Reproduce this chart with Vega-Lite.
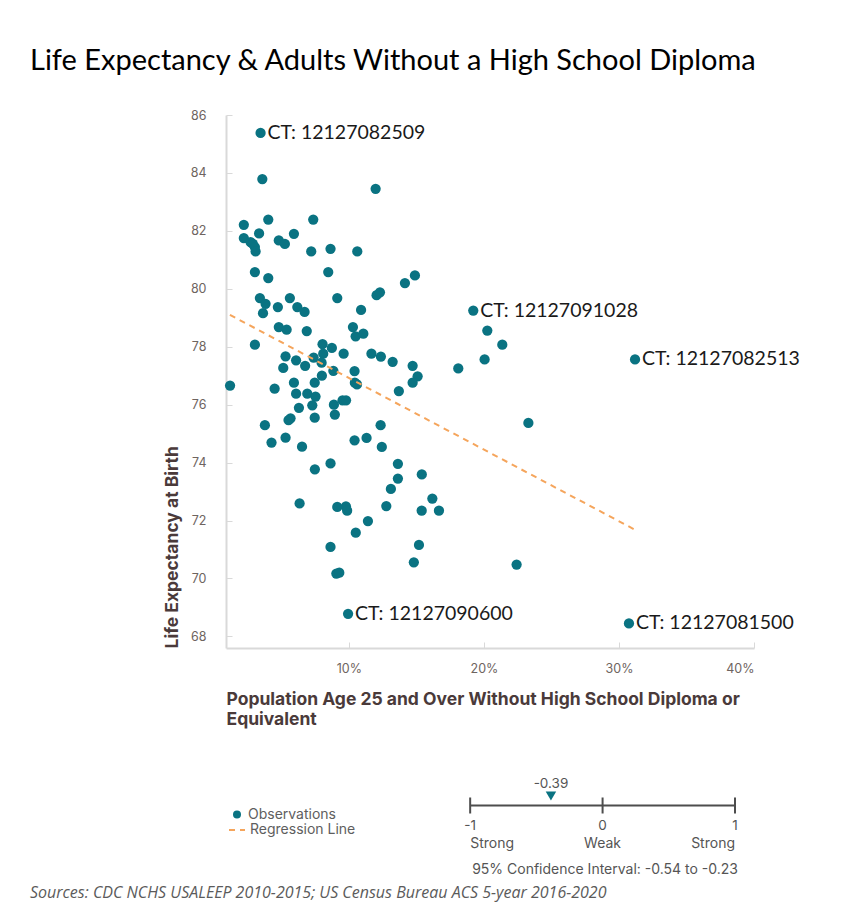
{
  "$schema": "https://vega.github.io/schema/vega-lite/v6.json",
  "background": "white",
  "padding": {"left": 30, "top": 47, "right": 10, "bottom": 5},
  "title": {"text": "Life Expectancy & Adults Without a High School Diploma", "anchor": "start", "font": "Lato", "fontSize": 29, "fontWeight": "normal", "color": "#000000", "offset": 33},
  "config": {"view": {"stroke": null}, "font": "Inter"},
  "bounds": "flush",
  "spacing": 149.5,
  "resolve": {"scale": {"color": "independent", "strokeDash": "independent"}, "legend": {"color": "independent", "strokeDash": "independent"}},
  "datasets": {
    "points": [
      {"x": 3.46, "y": 85.38, "label": "CT: 12127082509"},
      {"x": 3.59, "y": 83.79}, {"x": 11.98, "y": 83.45}, {"x": 2.22, "y": 82.21}, {"x": 4.03, "y": 82.39},
      {"x": 7.36, "y": 82.39}, {"x": 2.22, "y": 81.75}, {"x": 2.72, "y": 81.61}, {"x": 2.89, "y": 81.55},
      {"x": 3.04, "y": 81.44}, {"x": 3.09, "y": 81.29}, {"x": 3.35, "y": 81.91}, {"x": 4.81, "y": 81.67},
      {"x": 5.26, "y": 81.55}, {"x": 5.93, "y": 81.9}, {"x": 7.21, "y": 81.29}, {"x": 8.64, "y": 81.38},
      {"x": 10.62, "y": 81.29}, {"x": 3.04, "y": 80.58}, {"x": 4.03, "y": 80.37}, {"x": 8.47, "y": 80.58},
      {"x": 14.15, "y": 80.2}, {"x": 14.89, "y": 80.46}, {"x": 3.41, "y": 79.68}, {"x": 3.83, "y": 79.48},
      {"x": 3.64, "y": 79.16}, {"x": 4.74, "y": 79.37}, {"x": 5.63, "y": 79.68}, {"x": 6.18, "y": 79.37},
      {"x": 6.72, "y": 79.2}, {"x": 9.14, "y": 79.68}, {"x": 10.9, "y": 79.27}, {"x": 12.05, "y": 79.78},
      {"x": 12.3, "y": 79.88}, {"x": 4.81, "y": 78.68}, {"x": 5.39, "y": 78.59}, {"x": 6.88, "y": 78.54},
      {"x": 10.3, "y": 78.68}, {"x": 10.5, "y": 78.36}, {"x": 11.07, "y": 78.45}, {"x": 3.04, "y": 78.07},
      {"x": 8.05, "y": 78.09}, {"x": 8.74, "y": 77.96}, {"x": 9.61, "y": 77.76}, {"x": 8.1, "y": 77.76},
      {"x": 7.39, "y": 77.62}, {"x": 5.31, "y": 77.67}, {"x": 6.09, "y": 77.53}, {"x": 6.76, "y": 77.34},
      {"x": 5.14, "y": 77.27}, {"x": 7.98, "y": 77.45}, {"x": 8.85, "y": 77.17}, {"x": 11.67, "y": 77.76},
      {"x": 12.37, "y": 77.66}, {"x": 13.24, "y": 77.48}, {"x": 14.72, "y": 77.34}, {"x": 15.09, "y": 76.98},
      {"x": 14.72, "y": 76.76}, {"x": 18.1, "y": 77.25}, {"x": 10.42, "y": 77.16}, {"x": 10.44, "y": 76.76},
      {"x": 10.6, "y": 76.7},
      {"x": 19.21, "y": 79.25, "label": "CT: 12127091028"},
      {"x": 20.25, "y": 78.56}, {"x": 21.36, "y": 78.07}, {"x": 20.05, "y": 77.56},
      {"x": 31.19, "y": 77.56, "label": "CT: 12127082513"},
      {"x": 13.7, "y": 76.47}, {"x": 1.2, "y": 76.66}, {"x": 4.5, "y": 76.55}, {"x": 5.93, "y": 76.76},
      {"x": 6.09, "y": 76.38}, {"x": 6.92, "y": 76.38}, {"x": 7.47, "y": 76.76}, {"x": 8.0, "y": 77.0},
      {"x": 7.53, "y": 76.28}, {"x": 7.29, "y": 75.98}, {"x": 8.89, "y": 76.0}, {"x": 9.53, "y": 76.15},
      {"x": 9.79, "y": 76.15}, {"x": 6.3, "y": 75.89}, {"x": 5.68, "y": 75.53}, {"x": 5.53, "y": 75.47},
      {"x": 7.47, "y": 75.55}, {"x": 8.96, "y": 75.66}, {"x": 3.78, "y": 75.29}, {"x": 12.35, "y": 75.29},
      {"x": 4.27, "y": 74.69}, {"x": 5.31, "y": 74.86}, {"x": 6.53, "y": 74.55}, {"x": 10.42, "y": 74.77},
      {"x": 11.31, "y": 74.85}, {"x": 12.44, "y": 74.54}, {"x": 23.29, "y": 75.37}, {"x": 13.63, "y": 73.96},
      {"x": 7.48, "y": 73.77}, {"x": 8.64, "y": 73.97}, {"x": 15.4, "y": 73.59}, {"x": 13.63, "y": 73.45},
      {"x": 13.11, "y": 73.09}, {"x": 16.18, "y": 72.76}, {"x": 12.77, "y": 72.5}, {"x": 9.78, "y": 72.49},
      {"x": 9.87, "y": 72.34}, {"x": 9.14, "y": 72.47}, {"x": 6.35, "y": 72.59}, {"x": 15.39, "y": 72.34},
      {"x": 16.67, "y": 72.34}, {"x": 11.41, "y": 71.98}, {"x": 10.51, "y": 71.58}, {"x": 15.19, "y": 71.16},
      {"x": 8.64, "y": 71.09}, {"x": 14.81, "y": 70.56}, {"x": 22.42, "y": 70.48}, {"x": 9.07, "y": 70.17},
      {"x": 9.29, "y": 70.2},
      {"x": 9.94, "y": 68.78, "label": "CT: 12127090600"},
      {"x": 30.74, "y": 68.45, "label": "CT: 12127081500"}
    ],
    "regline": [{"x": 1.19, "y": 79.1}, {"x": 31.24, "y": 71.67}],
    "ticks": [
      {"v": -1, "lab": "-1", "desc": "Strong"},
      {"v": 0, "lab": "0", "desc": "Weak"},
      {"v": 1, "lab": "1", "desc": "Strong"}
    ],
    "corr": [{"r": -0.39, "r_text": "-0.39", "ci": "95% Confidence Interval: -0.54 to -0.23"}]
  },
  "vconcat": [
    {
      "width": 528,
      "height": 533,
      "data": {"name": "points"},
      "encoding": {
        "x": {"field": "x", "type": "quantitative",
          "scale": {"domain": [0.9, 40], "nice": false, "zero": false},
          "axis": {"values": [10, 20, 30, 40], "labelExpr": "datum.value + '%'", "grid": false,
            "title": ["Population Age 25 and Over Without High School Diploma or", "Equivalent"],
            "titleAnchor": "start", "titleAlign": "left", "titleFont": "Inter", "titleFontSize": 17.5, "titleFontWeight": "bold",
            "titleColor": "#4a3a3a", "titlePadding": 16, "titleLineHeight": 20,
            "labelFont": "Inter", "labelFontSize": 12.5, "labelColor": "#6e6460", "labelPadding": 20,
            "tickSize": -6, "tickColor": "#d9d9d9", "domainColor": "#d9d9d9", "domainWidth": 2}},
        "y": {"field": "y", "type": "quantitative",
          "scale": {"domain": [67.6, 86], "nice": false, "zero": false},
          "axis": {"values": [68, 70, 72, 74, 76, 78, 80, 82, 84, 86], "grid": false,
            "title": "Life Expectancy at Birth", "titleAnchor": "start", "titleFont": "Inter", "titleFontSize": 17.5,
            "titleFontWeight": "bold", "titleColor": "#4a3a3a", "titlePadding": 9,
            "labelFont": "Inter", "labelFontSize": 12.5, "labelColor": "#6e6460", "labelPadding": 26,
            "tickSize": -6, "tickColor": "#d9d9d9", "domainColor": "#d9d9d9", "domainWidth": 2}}
      },
      "layer": [
        {"mark": {"type": "point", "filled": true, "size": 105, "color": "#0a7382", "opacity": 1}},
        {"data": {"name": "regline"}, "mark": {"type": "line", "color": "#f5a55c", "strokeWidth": 2},
          "encoding": {
            "strokeDash": {"datum": "Regression Line", "type": "nominal",
              "scale": {"domain": ["Regression Line"], "range": [[6, 5]]},
              "legend": {"title": null, "orient": "none", "legendX": 2, "legendY": 706, "symbolType": "stroke", "symbolSize": 256,
                "symbolStrokeWidth": 2, "symbolStrokeColor": "#f5a55c", "labelFont": "Inter", "labelFontSize": 14,
                "labelColor": "#5e5e5e", "labelOffset": 4, "padding": 0}}}},
        {"transform": [{"filter": "datum.label != null"}],
          "mark": {"type": "text", "align": "left", "baseline": "middle", "dx": 7, "font": "Lato", "fontSize": 19.5, "color": "#1a1a1a"},
          "encoding": {"text": {"field": "label"}}}
      ]
    },
    {
      "width": 509,
      "height": 16,
      "title": {"text": "Sources: CDC NCHS USALEEP 2010-2015; US Census Bureau ACS 5-year 2016-2020", "orient": "bottom", "anchor": "start", "dx": -196,
        "font": "Open Sans", "fontStyle": "italic", "fontSize": 16, "fontWeight": "normal", "color": "#5b5b5b", "offset": 8},
      "layer": [
        {"data": {"name": "ticks"}, "mark": {"type": "rule", "color": "#4d4d4d", "strokeWidth": 2},
          "encoding": {
            "x": {"aggregate": "min", "field": "v", "type": "quantitative", "scale": {"domain": [-2.844, 1], "nice": false, "zero": false}, "axis": null},
            "x2": {"aggregate": "max", "field": "v"},
            "y": {"datum": 0, "type": "quantitative", "scale": {"domain": [-1, 1]}, "axis": null}}},
        {"data": {"name": "ticks"}, "mark": {"type": "rule", "color": "#4d4d4d", "strokeWidth": 2},
          "encoding": {
            "x": {"field": "v", "type": "quantitative"},
            "y": {"datum": -1, "type": "quantitative"},
            "y2": {"datum": 1}}},
        {"data": {"name": "ticks"}, "mark": {"type": "text", "align": "center", "baseline": "middle", "dy": 12.5, "fontSize": 13.5, "color": "#555555"},
          "encoding": {"x": {"field": "v", "type": "quantitative"}, "y": {"datum": -1, "type": "quantitative"}, "text": {"field": "lab"}}},
        {"data": {"name": "ticks"}, "transform": [{"filter": "datum.v == -1"}], "mark": {"type": "text", "align": "left", "baseline": "middle", "dy": 30.5, "fontSize": 14, "color": "#555555"},
          "encoding": {"x": {"field": "v", "type": "quantitative"}, "y": {"datum": -1, "type": "quantitative"}, "text": {"field": "desc"}}},
        {"data": {"name": "ticks"}, "transform": [{"filter": "datum.v == 0"}], "mark": {"type": "text", "align": "center", "baseline": "middle", "dy": 30.5, "fontSize": 14, "color": "#555555"},
          "encoding": {"x": {"field": "v", "type": "quantitative"}, "y": {"datum": -1, "type": "quantitative"}, "text": {"field": "desc"}}},
        {"data": {"name": "ticks"}, "transform": [{"filter": "datum.v == 1"}], "mark": {"type": "text", "align": "right", "baseline": "middle", "dy": 30.5, "fontSize": 14, "color": "#555555"},
          "encoding": {"x": {"field": "v", "type": "quantitative"}, "y": {"datum": -1, "type": "quantitative"}, "text": {"field": "desc"}}},
        {"data": {"name": "corr"}, "mark": {"type": "text", "align": "center", "baseline": "middle", "dy": -14, "fontSize": 13.5, "color": "#555555"},
          "encoding": {"x": {"field": "r", "type": "quantitative"}, "y": {"datum": 1, "type": "quantitative"}, "text": {"field": "r_text"}}},
        {"data": {"name": "corr"}, "mark": {"type": "text", "align": "left", "baseline": "middle", "dx": 2, "dy": 56.5, "fontSize": 14, "color": "#555555"},
          "encoding": {"x": {"datum": -1, "type": "quantitative"}, "y": {"datum": -1, "type": "quantitative"}, "text": {"field": "ci"}}},
        {"data": {"name": "corr"}, "mark": {"type": "point", "shape": "triangle-down", "filled": true, "size": 110, "opacity": 1},
          "encoding": {
            "x": {"field": "r", "type": "quantitative"},
            "y": {"datum": 1.19, "type": "quantitative"},
            "color": {"datum": "Observations", "type": "nominal",
              "scale": {"domain": ["Observations"], "range": ["#0a7382"]},
              "legend": {"title": null, "orient": "none", "legendX": 4, "legendY": 10, "symbolType": "circle", "symbolSize": 64,
                "labelFont": "Inter", "labelFontSize": 14, "labelColor": "#5e5e5e", "labelOffset": 4, "padding": 0}}}}
      ]
    }
  ]
}
